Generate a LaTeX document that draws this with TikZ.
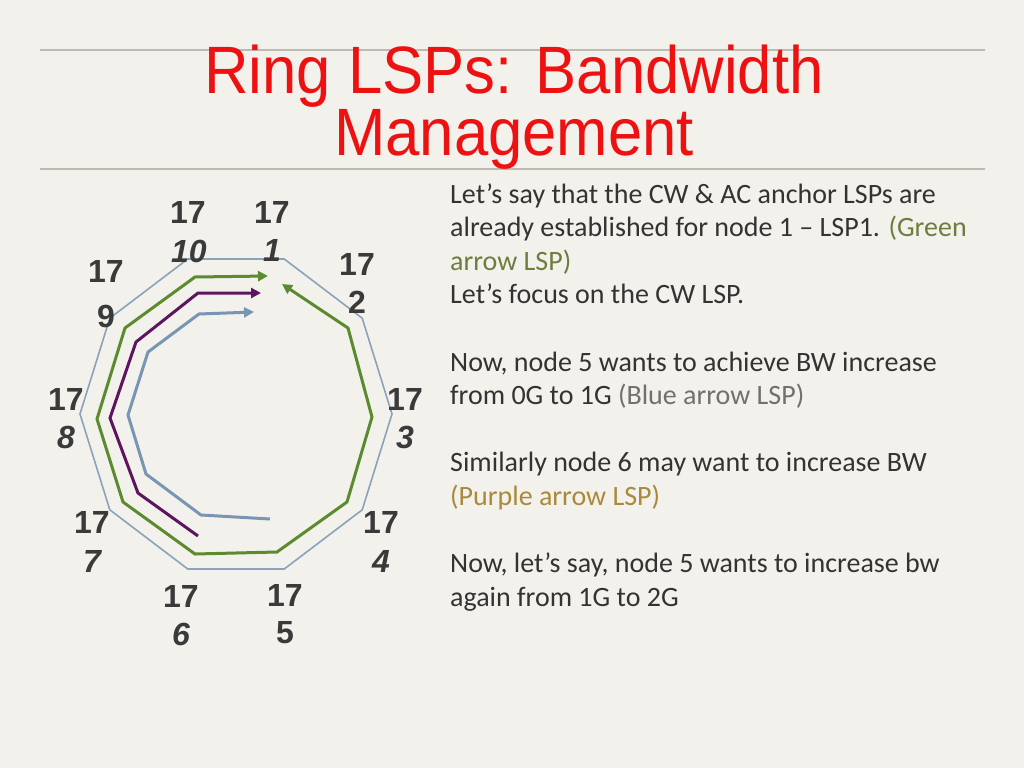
\documentclass[tikz,border=0pt]{standalone}
\usepackage{fontspec}
\setmainfont{Carlito}
\newfontfamily\titlefont[FakeStretch=0.92]{Liberation Sans}
\newfontfamily\labfont{Liberation Sans}
\usetikzlibrary{arrows.meta}
\definecolor{bgc}{HTML}{F3F1EC}
\definecolor{rulec}{HTML}{BDBAB4}
\definecolor{titlec}{HTML}{EE1111}
\definecolor{digc}{HTML}{3A3A3A}
\definecolor{ringc}{HTML}{8AA2BA}
\definecolor{greenc}{HTML}{5C8A2E}
\definecolor{purplec}{HTML}{5E1560}
\definecolor{bluec}{HTML}{7896B4}
\definecolor{txtc}{HTML}{333333}
\definecolor{gtxt}{HTML}{6E7D3E}
\definecolor{btxt}{HTML}{707070}
\definecolor{ptxt}{HTML}{A88A3A}
\tikzset{
  lab/.style={font=\labfont\bfseries\fontsize{32}{36}\selectfont, text=digc, inner sep=0pt, anchor=center},
  labi/.style={font=\labfont\bfseries\itshape\fontsize{32}{36}\selectfont, text=digc, inner sep=0pt, anchor=center},
  line/.style={font=\fontsize{28}{32}\selectfont, text=txtc, inner sep=0pt, anchor=base west},
  lsp/.style={line width=3pt, line join=miter, -{Triangle[length=10pt,width=10pt]}},
  ruleline/.style={draw=rulec, line width=2pt},
}
\begin{document}
\begin{tikzpicture}[x=1pt,y=-1pt]
\fill[bgc] (0,0) rectangle (1024,768);
\useasboundingbox (0,0) rectangle (1024,768);
% title rules
\coordinate (r1a) at (40,50); \coordinate (r1b) at (985,50);
\coordinate (r2a) at (40,169); \coordinate (r2b) at (985,169);
\draw[ruleline] (r1a) -- (r1b);
\draw[ruleline] (r2a) -- (r2b);
\node[font=\titlefont\fontsize{67}{70}\selectfont, text=titlec, inner sep=0pt] (t1) at (514,76) {Ring LSPs: Bandwidth};
\node[font=\titlefont\fontsize{67}{70}\selectfont, text=titlec, inner sep=0pt] (t2) at (514,139) {Management};
% ring
\foreach \i/\a in {0/0,1/36,2/72,3/108,4/144,5/180,6/216,7/252,8/288,9/324}{
  \coordinate (v\i) at ({236+156*cos(\a)},{414-163*sin(\a)});
}
\draw[ringc, line width=1.6pt, line join=miter] (v0) -- (v1) -- (v2) -- (v3) -- (v4) -- (v5) -- (v6) -- (v7) -- (v8) -- (v9) -- cycle;
% green LSP (both directions)
\coordinate (g0) at (268,276);
\coordinate (g1) at (195,277);
\coordinate (g2) at (125,328);
\coordinate (g3) at (97,419);
\coordinate (g4) at (123,502);
\coordinate (g5) at (195,554);
\coordinate (g6) at (277,552);
\coordinate (g7) at (347,502);
\coordinate (g8) at (372,417);
\coordinate (g9) at (348,328);
\coordinate (g10) at (282,284);
\draw[lsp, greenc, {Triangle[length=10pt,width=10pt]}-{Triangle[length=10pt,width=10pt]}] (g0) -- (g1) -- (g2) -- (g3) -- (g4) -- (g5) -- (g6) -- (g7) -- (g8) -- (g9) -- (g10);
% purple LSP
\coordinate (p0) at (198,536);
\coordinate (p1) at (138,493);
\coordinate (p2) at (110,418);
\coordinate (p3) at (136,342);
\coordinate (p4) at (198,293);
\coordinate (p5) at (261,293);
\draw[lsp, purplec] (p0) -- (p1) -- (p2) -- (p3) -- (p4) -- (p5);
% blue LSP
\coordinate (b0) at (270,519);
\coordinate (b1) at (201,515);
\coordinate (b2) at (146,474);
\coordinate (b3) at (128,415);
\coordinate (b4) at (148,352);
\coordinate (b5) at (199,314);
\coordinate (b6) at (254,312);
\draw[lsp, bluec] (b0) -- (b1) -- (b2) -- (b3) -- (b4) -- (b5) -- (b6);
% labels
\node[lab] (n10a) at (188,212) {17}; \node[labi] (n10b) at (189,251) {10};
\node[lab] (n1a) at (272,212) {17}; \node[labi] (n1b) at (272,250) {1};
\node[lab] (n2a) at (357,264) {17}; \node[lab] (n2b) at (357,302) {2};
\node[lab] (n3a) at (405,399) {17}; \node[labi] (n3b) at (405,437) {3};
\node[lab] (n4a) at (381,522) {17}; \node[labi] (n4b) at (381,561) {4};
\node[lab] (n5a) at (285,595) {17}; \node[lab] (n5b) at (285,633) {5};
\node[lab] (n6a) at (181,596) {17}; \node[labi] (n6b) at (181,634) {6};
\node[lab] (n7a) at (92,522) {17}; \node[labi] (n7b) at (92,561) {7};
\node[lab] (n8a) at (66,399) {17}; \node[labi] (n8b) at (66,437) {8};
\node[lab] (n9a) at (106,271) {17}; \node[lab] (n9b) at (106,316) {9};
% text
\node[line] (l1) at (450,203) {Let’s say that the CW \& AC anchor LSPs are};
\node[line] (l2) at (450,236) {already established for node 1 – LSP1. \textcolor{gtxt}{(Green}};
\node[line] (l3) at (450,270) {\textcolor{gtxt}{arrow LSP)}};
\node[line] (l4) at (450,303) {Let’s focus on the CW LSP.};
\node[line] (l5) at (450,371) {Now, node 5 wants to achieve BW increase};
\node[line] (l6) at (450,404) {from 0G to 1G \textcolor{btxt}{(Blue arrow LSP)}};
\node[line] (l7) at (450,471) {Similarly node 6 may want to increase BW};
\node[line] (l8) at (450,505) {\textcolor{ptxt}{(Purple arrow LSP)}};
\node[line] (l9) at (450,572) {Now, let’s say, node 5 wants to increase bw};
\node[line] (l10) at (450,606) {again from 1G to 2G};
\end{tikzpicture}
\end{document}
